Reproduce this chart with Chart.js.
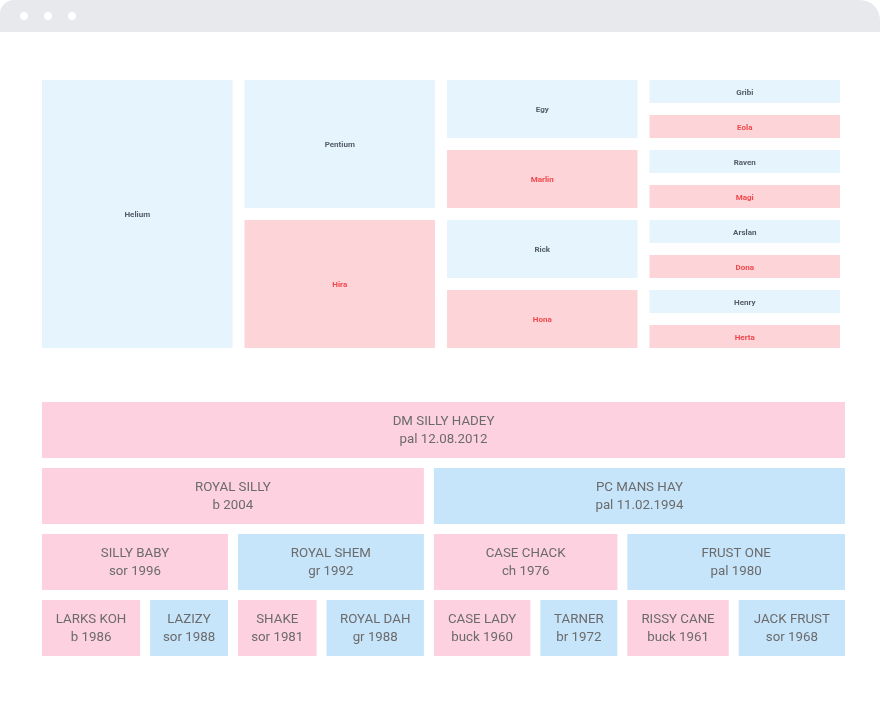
<!DOCTYPE html>
<html>
<head>
<meta charset="utf-8">
<script src="https://cdn.jsdelivr.net/npm/chart.js@4.4.1/dist/chart.umd.min.js"></script>
<style>
  html, body { margin: 0; padding: 0; background: #ffffff; }
  body { width: 880px; height: 707px; position: relative; overflow: hidden; font-family: Roboto, "Noto Sans", sans-serif; }
  .bar { position: absolute; left: 0; top: 0; width: 880px; height: 32px; background: #e8e9ed; border-radius: 14px 20px 0 0; }
  .dot { position: absolute; top: 12px; width: 8px; height: 8px; border-radius: 50%; background: #ffffff; }
  #top { position: absolute; left: 0; top: 0; }
  #bottom { position: absolute; left: 0; top: 370px; }
</style>
</head>
<body>
<div class="bar">
  <div class="dot" style="left:20px"></div>
  <div class="dot" style="left:44px"></div>
  <div class="dot" style="left:68px"></div>
</div>
<canvas id="top" width="880" height="370"></canvas>
<canvas id="bottom" width="880" height="337"></canvas>
<script>
// ---------- Top chart data (pedigree grid) ----------
const topGenerations = ['G0', 'G1', 'G2', 'G3'];
const topNames = ['Helium', 'Pentium', 'Hira', 'Egy', 'Marlin', 'Rick', 'Hona',
  'Gribi', 'Eola', 'Raven', 'Magi', 'Arslan', 'Dona', 'Henry', 'Herta'];
const topGen = [0, 1, 1, 2, 2, 2, 2, 3, 3, 3, 3, 3, 3, 3, 3];
const topSex = ['M', 'M', 'F', 'M', 'F', 'M', 'F', 'M', 'F', 'M', 'F', 'M', 'F', 'M', 'F'];
const topFrom = [0, 0, 4, 0, 2, 4, 6, 0, 1, 2, 3, 4, 5, 6, 7];
const topTo   = [8, 4, 8, 2, 4, 6, 8, 1, 2, 3, 4, 5, 6, 7, 8];

// ---------- Bottom chart data (pedigree rows) ----------
const rowLabels = ['Horse', 'Parents', 'Grandparents', 'Great-grandparents'];
const bNames = ['DM SILLY HADEY', 'ROYAL SILLY', 'PC MANS HAY', 'SILLY BABY', 'ROYAL SHEM',
  'CASE CHACK', 'FRUST ONE', 'LARKS KOH', 'LAZIZY', 'SHAKE', 'ROYAL DAH', 'CASE LADY',
  'TARNER', 'RISSY CANE', 'JACK FRUST'];
const bInfo = ['pal 12.08.2012', 'b 2004', 'pal 11.02.1994', 'sor 1996', 'gr 1992',
  'ch 1976', 'pal 1980', 'b 1986', 'sor 1988', 'sor 1981', 'gr 1988', 'buck 1960',
  'br 1972', 'buck 1961', 'sor 1968'];
const bRow = [0, 1, 1, 2, 2, 2, 2, 3, 3, 3, 3, 3, 3, 3, 3];
const bSex = ['F', 'F', 'M', 'F', 'M', 'F', 'M', 'F', 'M', 'F', 'M', 'F', 'M', 'F', 'M'];
const bStart = [0, 0, 48.2, 0, 24.1, 48.2, 72.0, 0, 13.3, 24.1, 35.0, 48.2, 61.3, 72.0, 85.7];
const bEnd = [100, 48.2, 100, 24.1, 48.2, 72.0, 100, 13.3, 24.1, 35.0, 48.2, 61.3, 72.0, 85.7, 100];

const TOP_BLUE = '#e6f4fd', TOP_PINK = '#fdd5d8';
const TOP_TXT_M = '#545c69', TOP_TXT_F = '#f0474c';
const BOT_BLUE = '#c6e4fa', BOT_PINK = '#fdd1e0';
const BOT_TXT = '#6b6b6b';

function pick(arrIdx, sex, want) { return arrIdx.filter(i => sex[i] === want); }

const labelPlugin = {
  id: 'cellLabels',
  afterDatasetsDraw(chart) {
    const ctx = chart.ctx;
    const cfg = chart.options.plugins.cellLabels;
    chart.data.datasets.forEach((ds, di) => {
      const meta = chart.getDatasetMeta(di);
      meta.data.forEach((el, i) => {
        const c = el.getCenterPoint();
        const lines = ds.lines[i];
        ctx.save();
        ctx.font = cfg.font;
        ctx.fillStyle = ds.textColor;
        ctx.textAlign = 'center';
        ctx.textBaseline = 'middle';
        const n = lines.length;
        lines.forEach((t, k) => {
          ctx.fillText(t, c.x, c.y + cfg.offsetY + (k - (n - 1) / 2) * cfg.lineHeight);
        });
        ctx.restore();
      });
    });
  }
};

// ---------- Top chart ----------
const allTop = topNames.map((_, i) => i);
function topDataset(sex) {
  const idx = pick(allTop, topSex, sex);
  return {
    data: idx.map(i => ({ x: topGenerations[topGen[i]], y: [topFrom[i], topTo[i]] })),
    lines: idx.map(i => [topNames[i]]),
    backgroundColor: sex === 'M' ? TOP_BLUE : TOP_PINK,
    textColor: sex === 'M' ? TOP_TXT_M : TOP_TXT_F,
    borderColor: '#ffffff',
    borderWidth: 6,
    borderSkipped: false,
    inflateAmount: 0,
    grouped: false,
    categoryPercentage: 1,
    barPercentage: 1
  };
}
new Chart(document.getElementById('top'), {
  type: 'bar',
  data: { labels: topGenerations, datasets: [topDataset('M'), topDataset('F')] },
  options: {
    responsive: false,
    animation: false,
    layout: { padding: { left: 36, right: 34, top: 74, bottom: 16 } },
    scales: {
      x: { type: 'category', display: false, offset: true },
      y: { type: 'linear', display: false, min: 0, max: 8, reverse: true }
    },
    plugins: {
      legend: { display: false },
      tooltip: { enabled: false },
      cellLabels: { font: 'bold 8px Roboto, "Noto Sans", sans-serif', lineHeight: 10, offsetY: 1 }
    }
  },
  plugins: [labelPlugin]
});

// ---------- Bottom chart ----------
const allBot = bNames.map((_, i) => i);
function botDataset(sex) {
  const idx = pick(allBot, bSex, sex);
  return {
    data: idx.map(i => ({ y: rowLabels[bRow[i]], x: [bStart[i], bEnd[i]] })),
    lines: idx.map(i => [bNames[i], bInfo[i]]),
    backgroundColor: sex === 'M' ? BOT_BLUE : BOT_PINK,
    textColor: BOT_TXT,
    borderColor: '#ffffff',
    borderWidth: 5,
    borderSkipped: false,
    inflateAmount: 0,
    grouped: false,
    categoryPercentage: 1,
    barPercentage: 1
  };
}
new Chart(document.getElementById('bottom'), {
  type: 'bar',
  data: { labels: rowLabels, datasets: [botDataset('F'), botDataset('M')] },
  options: {
    indexAxis: 'y',
    responsive: false,
    animation: false,
    layout: { padding: { left: 37, right: 30, top: 27, bottom: 46 } },
    scales: {
      y: { type: 'category', display: false, offset: true },
      x: { type: 'linear', display: false, min: 0, max: 100 }
    },
    plugins: {
      legend: { display: false },
      tooltip: { enabled: false },
      cellLabels: { font: '13.3px Roboto, "Noto Sans", sans-serif', lineHeight: 18, offsetY: 1 }
    }
  },
  plugins: [labelPlugin]
});
</script>
</body>
</html>
